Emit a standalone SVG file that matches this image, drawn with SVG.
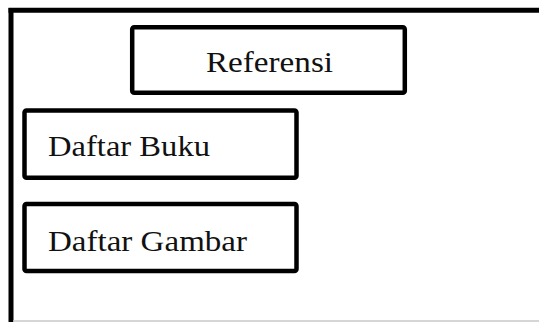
<svg xmlns="http://www.w3.org/2000/svg" width="539" height="322" viewBox="0 0 539 322">
  <style>
    .box { fill: #ffffff; stroke: #000000; stroke-width: 4.5; stroke-linejoin: round; }
    .frame { fill: none; stroke: #000000; stroke-width: 5; }
    .lbl { font-family: "Liberation Serif", "Times New Roman", serif; font-size: 30px; fill: #111111; }
  </style>
  <rect x="0" y="0" width="539" height="322" fill="#ffffff"/>
  <g id="frame">
    <line x1="8.5" y1="10.2" x2="539" y2="10.2" class="frame"/>
    <line x1="11" y1="8" x2="11" y2="322" class="frame"/>
    <line x1="13" y1="321" x2="539" y2="321" stroke="#c8c8c8" stroke-width="1.5"/>
  </g>
  <g id="referensi">
    <rect x="132.2" y="27.2" width="272.6" height="65.6" rx="2" class="box"/>
    <text x="206" y="72.3" class="lbl" textLength="127" lengthAdjust="spacingAndGlyphs">Referensi</text>
  </g>
  <g id="daftar-buku">
    <rect x="24.5" y="110.5" width="272" height="67.3" rx="2" class="box"/>
    <text x="48" y="155.7" class="lbl" textLength="162" lengthAdjust="spacingAndGlyphs">Daftar Buku</text>
  </g>
  <g id="daftar-gambar">
    <rect x="24.5" y="204" width="272" height="67" rx="2" class="box"/>
    <text x="48" y="250.7" class="lbl" textLength="199" lengthAdjust="spacingAndGlyphs">Daftar Gambar</text>
  </g>
  <g id="connectors"/>
</svg>
